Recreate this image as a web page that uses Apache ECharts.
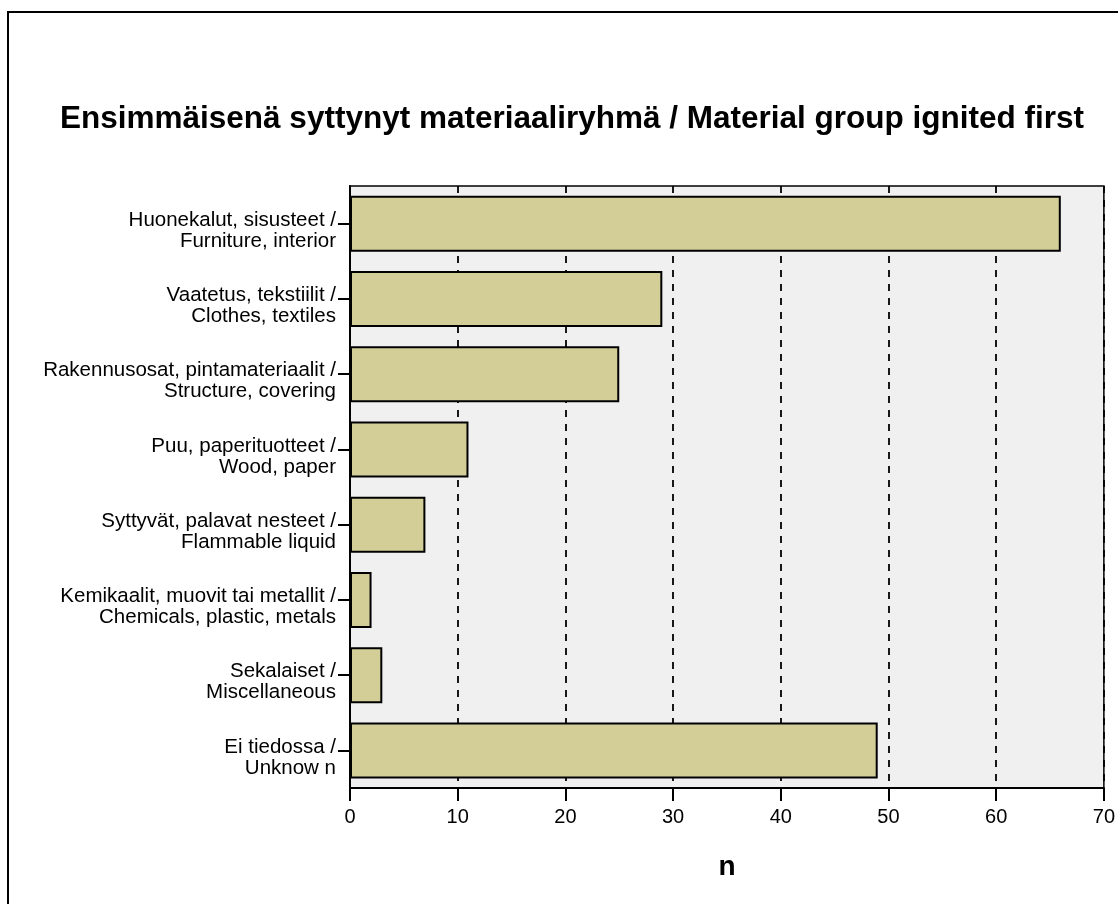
<!DOCTYPE html>
<html>
<head>
<meta charset="utf-8">
<script src="https://cdn.jsdelivr.net/npm/echarts@6/dist/echarts.min.js"></script>
<style>
html,body{margin:0;padding:0;background:#fff;}
#chart{width:1118px;height:904px;}
</style>
</head>
<body>
<div id="chart"></div>
<script>
const titleText = 'Ensimmäisenä syttynyt materiaaliryhmä / Material group ignited first';
const categories = [
  'Huonekalut, sisusteet /\nFurniture, interior',
  'Vaatetus, tekstiilit /\nClothes, textiles',
  'Rakennusosat, pintamateriaalit /\nStructure, covering',
  'Puu, paperituotteet /\nWood, paper',
  'Syttyvät, palavat nesteet /\nFlammable liquid',
  'Kemikaalit, muovit tai metallit /\nChemicals, plastic, metals',
  'Sekalaiset /\nMiscellaneous',
  'Ei tiedossa /\nUnknow n'
];
const counts = [66, 29, 25, 11, 7, 2, 3, 49];
const xAxisName = 'n';

const chart = echarts.init(document.getElementById('chart'));
const font = 'Arial, "Liberation Sans", Helvetica, sans-serif';
chart.setOption({
  backgroundColor: '#ffffff',
  animation: false,
  title: {
    text: titleText,
    left: 55,
    top: 98,
    textStyle: {fontFamily: font, fontSize: 31.5, fontWeight: 'bold', color: '#000'}
  },
  graphic: [{
    type: 'rect',
    shape: {x: 8, y: 12, width: 1200, height: 1000},
    style: {fill: 'none', stroke: '#000', lineWidth: 2},
    z: 100
  }],
  grid: {
    left: 350, top: 186, right: 11, bottom: 116,
    show: true, backgroundColor: '#f0f0f0', borderColor: '#000', borderWidth: 1.5
  },
  xAxis: {
    type: 'value', min: 0, max: 70, interval: 10,
    name: xAxisName, nameLocation: 'middle', nameGap: 65,
    nameTextStyle: {fontFamily: font, fontSize: 28, fontWeight: 'bold', color: '#000'},
    axisLine: {show: true, lineStyle: {color: '#000', width: 2}},
    axisTick: {show: true, length: 13, lineStyle: {color: '#000', width: 2}},
    axisLabel: {fontFamily: font, fontSize: 20, color: '#000', margin: 19},
    splitLine: {show: true, lineStyle: {color: '#000', type: [7, 7], width: 1.8}}
  },
  yAxis: {
    type: 'category', data: categories, inverse: true,
    axisLine: {show: true, lineStyle: {color: '#000', width: 2}},
    axisTick: {show: true, length: 12, alignWithLabel: true, lineStyle: {color: '#000', width: 2}},
    axisLabel: {
      fontFamily: font, fontSize: 20.5, color: '#000', margin: 14, align: 'right',
      formatter: function (v) {
        const parts = v.split('\n');
        return '{s| }\n{a|' + parts[0] + '}\n{a|' + parts[1] + '}';
      },
      rich: {
        s: {fontSize: 1, lineHeight: 14},
        a: {fontFamily: font, fontSize: 20.5, lineHeight: 21, color: '#000', align: 'right'}
      }
    },
    splitLine: {show: false}
  },
  series: [{
    type: 'bar',
    data: counts,
    barWidth: 56,
    itemStyle: {color: '#d3ce98', borderColor: '#000', borderWidth: 2},
    z: 3
  }]
});
</script>
</body>
</html>
